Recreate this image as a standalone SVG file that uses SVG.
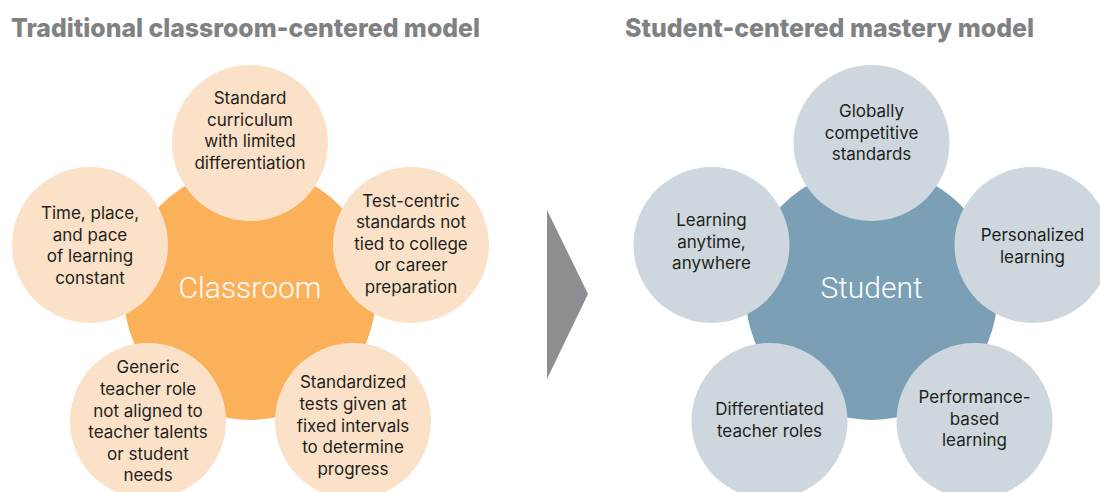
<svg xmlns="http://www.w3.org/2000/svg" width="1100" height="492" viewBox="0 0 1100 492">
  <style>
    .title { font-family: Inter, "Liberation Sans", Arial, sans-serif; font-weight: 800; font-size: 26px; fill: #7f8283; }
    .hub-label { font-family: Roboto, "Liberation Sans", sans-serif; font-weight: 300; font-size: 30px; fill: #ffffff; text-anchor: middle; }
    .label { font-family: Inter, "Liberation Sans", sans-serif; font-size: 17px; fill: #231f20; text-anchor: middle; }
    .hub-warm { fill: #fbb05a; }
    .sat-warm { fill: #fbe1c8; }
    .hub-cool { fill: #7ba0b6; }
    .sat-cool { fill: #cdd7dd; }
    .arrow { fill: #8e8e92; }
  </style>

  <rect width="1100" height="492" fill="#ffffff"/>

  <!-- Column headings -->
  <text class="title" x="11" y="37" textLength="469" lengthAdjust="spacingAndGlyphs">Traditional classroom-centered model</text>
  <text class="title" x="625" y="37" textLength="409" lengthAdjust="spacingAndGlyphs">Student-centered mastery model</text>

  <!-- Transition arrow between the two models -->
  <g id="connectors">
    <polygon class="arrow" points="547,210 588,294 547,379"/>
  </g>

  <!-- Traditional model -->
  <g id="classroom">
    <circle class="hub-warm" cx="250" cy="294" r="126"/>
    <text class="hub-label" x="250" y="298">Classroom</text>
  </g>
  <g id="standard-curriculum">
    <circle class="sat-warm" cx="250" cy="143" r="78"/>
    <text class="label" x="250" y="104">Standard</text>
    <text class="label" x="250" y="125.5">curriculum</text>
    <text class="label" x="250" y="147">with limited</text>
    <text class="label" x="250" y="168.5">differentiation</text>
  </g>
  <g id="time-place-pace">
    <circle class="sat-warm" cx="90" cy="245" r="78"/>
    <text class="label" x="90" y="219">Time, place,</text>
    <text class="label" x="90" y="240.5">and pace</text>
    <text class="label" x="90" y="262">of learning</text>
    <text class="label" x="90" y="283.5">constant</text>
  </g>
  <g id="test-centric-standards">
    <circle class="sat-warm" cx="411" cy="245" r="78"/>
    <text class="label" x="411" y="206.5">Test-centric</text>
    <text class="label" x="411" y="228">standards not</text>
    <text class="label" x="411" y="249.5">tied to college</text>
    <text class="label" x="411" y="271">or career</text>
    <text class="label" x="411" y="292.5">preparation</text>
  </g>
  <g id="generic-teacher-role">
    <circle class="sat-warm" cx="148" cy="421" r="78"/>
    <text class="label" x="148" y="373">Generic</text>
    <text class="label" x="148" y="395">teacher role</text>
    <text class="label" x="148" y="416.5">not aligned to</text>
    <text class="label" x="148" y="438">teacher talents</text>
    <text class="label" x="148" y="459.5">or student</text>
    <text class="label" x="148" y="481">needs</text>
  </g>
  <g id="standardized-tests">
    <circle class="sat-warm" cx="353" cy="421" r="78"/>
    <text class="label" x="353" y="388">Standardized</text>
    <text class="label" x="353" y="410">tests given at</text>
    <text class="label" x="353" y="431.5">fixed intervals</text>
    <text class="label" x="353" y="453">to determine</text>
    <text class="label" x="353" y="474.5">progress</text>
  </g>

  <!-- Mastery model -->
  <g id="student">
    <circle class="hub-cool" cx="871.5" cy="294" r="126"/>
    <text class="hub-label" x="871.5" y="298">Student</text>
  </g>
  <g id="global-standards">
    <circle class="sat-cool" cx="871.5" cy="143" r="78"/>
    <text class="label" x="871.5" y="117">Globally</text>
    <text class="label" x="871.5" y="138.5">competitive</text>
    <text class="label" x="871.5" y="160">standards</text>
  </g>
  <g id="learning-anytime">
    <circle class="sat-cool" cx="711.5" cy="245" r="78"/>
    <text class="label" x="711.5" y="226">Learning</text>
    <text class="label" x="711.5" y="247.5">anytime,</text>
    <text class="label" x="711.5" y="269">anywhere</text>
  </g>
  <g id="personalized-learning">
    <circle class="sat-cool" cx="1032.5" cy="245" r="78"/>
    <text class="label" x="1032.5" y="241">Personalized</text>
    <text class="label" x="1032.5" y="262.5">learning</text>
  </g>
  <g id="differentiated-roles">
    <circle class="sat-cool" cx="769.5" cy="421" r="78"/>
    <text class="label" x="769.5" y="415">Differentiated</text>
    <text class="label" x="769.5" y="436.5">teacher roles</text>
  </g>
  <g id="performance-based">
    <circle class="sat-cool" cx="974.5" cy="421" r="78"/>
    <text class="label" x="974.5" y="403">Performance-</text>
    <text class="label" x="974.5" y="424.5">based</text>
    <text class="label" x="974.5" y="446">learning</text>
  </g>
</svg>
